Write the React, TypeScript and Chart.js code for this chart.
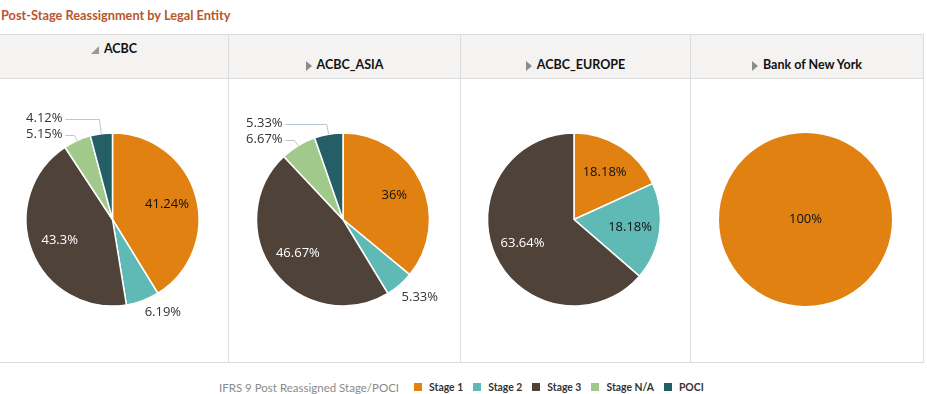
import React, { useEffect, useRef } from "react";
import { Chart, registerables } from "chart.js";

Chart.register(...registerables);

const TITLE = "Post-Stage Reassignment by Legal Entity";
const LEGEND_TITLE = "IFRS 9 Post Reassigned Stage/POCI";
const STAGES = ["Stage 1", "Stage 2", "Stage 3", "Stage N/A", "POCI"];
const STAGE_COLORS = ["#E08112", "#5FBAB5", "#4E4239", "#A2C98C", "#245F68"];
const INSIDE_TEXT = ["#111111", "#111111", "#FFFFFF", "#111111", "#FFFFFF"];
const ENTITIES = ["ACBC", "ACBC_ASIA", "ACBC_EUROPE", "Bank of New York"];
const EXPANDED = [true, false, false, false];

const ACBC = [41.24, 6.19, 43.3, 5.15, 4.12];
const ACBC_ASIA = [36, 5.33, 46.67, 6.67, 5.33];
const ACBC_EUROPE = [18.18, 18.18, 63.64, 0, 0];
const BANK_OF_NEW_YORK = [100, 0, 0, 0, 0];
const SERIES = [ACBC, ACBC_ASIA, ACBC_EUROPE, BANK_OF_NEW_YORK];

// layout (px)
const COL_BORDERS = [228, 460, 690, 923];
const TABLE_TOP = 34;
const HEADER_H = 43;
const BODY_H = 283;
const PIE_R = 86.5;
const FONT_UI = 'Lato, "Open Sans", sans-serif';
const FONT_LABEL = '13px "Open Sans", sans-serif';

const sliceLabels = {
  id: "sliceLabels",
  afterDatasetsDraw(chart: any) {
    const ctx = chart.ctx as CanvasRenderingContext2D;
    const meta = chart.getDatasetMeta(0);
    const data = chart.data.datasets[0].data as number[];
    const total = data.reduce((a, b) => a + b, 0);
    ctx.save();
    ctx.font = FONT_LABEL;
    ctx.textBaseline = "middle";
    const leftOut: any[] = [];
    meta.data.forEach((el: any, i: number) => {
      const v = data[i];
      if (!v) return;
      const p = el.getProps(["x", "y", "startAngle", "endAngle", "outerRadius"], true);
      const mid = (p.startAngle + p.endAngle) / 2;
      const dx = Math.cos(mid);
      const dy = Math.sin(mid);
      const text = String(v) + "%";
      const share = v / total;
      if (share >= 0.999) {
        ctx.fillStyle = INSIDE_TEXT[i];
        ctx.textAlign = "center";
        ctx.fillText(text, p.x, p.y);
      } else if (share >= 0.08) {
        ctx.fillStyle = INSIDE_TEXT[i];
        ctx.textAlign = "center";
        const d = p.outerRadius * 0.655;
        ctx.fillText(text, p.x + dx * d, p.y + dy * d);
      } else {
        const ex = p.x + dx * p.outerRadius;
        const ey = p.y + dy * p.outerRadius;
        if (dx >= 0) {
          ctx.fillStyle = "#333333";
          ctx.textAlign = "left";
          ctx.fillText(text, ex + 2, ey + 12);
        } else {
          leftOut.push({ text, ex, ey, dx, dy });
        }
      }
    });
    if (leftOut.length) {
      leftOut.sort((a, b) => b.ey - a.ey);
      let prevY = Infinity;
      leftOut.forEach((l) => {
        l.ly = Math.min(l.ey - 6, prevY - 16);
        prevY = l.ly;
        if (l.dy < 0) {
          const t = (l.ey - l.ly) / -l.dy;
          l.bx = l.ex + l.dx * t;
        } else {
          l.bx = l.ex;
        }
      });
      const textRight = Math.min(...leftOut.map((l) => l.bx)) - 12;
      ctx.strokeStyle = "#B8C5D2";
      ctx.lineWidth = 1;
      leftOut.forEach((l) => {
        ctx.beginPath();
        ctx.moveTo(l.ex, l.ey);
        ctx.lineTo(l.bx, Math.round(l.ly) + 0.5);
        ctx.lineTo(textRight + 3, Math.round(l.ly) + 0.5);
        ctx.stroke();
        ctx.fillStyle = "#333333";
        ctx.textAlign = "right";
        ctx.fillText(l.text, textRight, l.ly);
      });
    }
    ctx.restore();
  },
};

function PieCell({ values, width, height }: { values: number[]; width: number; height: number }) {
  const ref = useRef<HTMLCanvasElement | null>(null);
  useEffect(() => {
    if (!ref.current) return;
    const total = values.reduce((a, b) => a + b, 0);
    const chart = new Chart(ref.current, {
      type: "pie",
      data: {
        labels: STAGES,
        datasets: [
          {
            data: values,
            backgroundColor: STAGE_COLORS,
            borderColor: "#FFFFFF",
            borderWidth: (c: any) => {
              const v = values[c.dataIndex] || 0;
              return v === 0 || v / total >= 0.999 ? 0 : 1.5;
            },
            radius: PIE_R,
          } as any,
        ],
      },
      options: {
        responsive: false,
        animation: false,
        layout: { padding: { right: 3, bottom: 2 } },
        plugins: { legend: { display: false }, tooltip: { enabled: false } },
      },
      plugins: [sliceLabels],
    });
    return () => chart.destroy();
  }, [values, width, height]);
  return <canvas ref={ref} width={width} height={height} style={{ width, height, display: "block" }} />;
}

export default function App() {
  const lefts = [0, COL_BORDERS[0] + 1, COL_BORDERS[1] + 1, COL_BORDERS[2] + 1];
  const widths = lefts.map((l, i) => COL_BORDERS[i] - l);
  const border = "#DCDCDC";
  return (
    <div style={{ position: "absolute", left: 0, top: 0, width: 927, height: 394, background: "#FFFFFF", fontFamily: FONT_UI, overflow: "hidden" }}>
      <div style={{ position: "absolute", left: 1, top: 6, fontSize: 12.75, fontWeight: 700, color: "#B9562C", lineHeight: "18px", whiteSpace: "nowrap" }}>
        {TITLE}
      </div>
      {/* table lines */}
      <div style={{ position: "absolute", left: 0, top: TABLE_TOP, width: COL_BORDERS[3] + 1, height: 1, background: border }} />
      <div style={{ position: "absolute", left: 0, top: TABLE_TOP + 1, width: COL_BORDERS[3], height: HEADER_H, background: "#F4F3F1" }} />
      <div style={{ position: "absolute", left: 0, top: TABLE_TOP + 1 + HEADER_H, width: COL_BORDERS[3] + 1, height: 1, background: border }} />
      <div style={{ position: "absolute", left: 0, top: TABLE_TOP + 2 + HEADER_H + BODY_H, width: COL_BORDERS[3] + 1, height: 1, background: border }} />
      {COL_BORDERS.map((x) => (
        <div key={x} style={{ position: "absolute", left: x, top: TABLE_TOP, width: 1, height: HEADER_H + BODY_H + 3, background: border }} />
      ))}
      {ENTITIES.map((name, i) => (
        <div key={name} style={{ position: "absolute", left: lefts[i], width: widths[i], top: EXPANDED[i] ? TABLE_TOP + 7 : TABLE_TOP + 23, height: 16, display: "flex", justifyContent: "center", alignItems: "flex-end" }}>
          {EXPANDED[i] ? (
            <span style={{ width: 0, height: 0, borderBottom: "8px solid #9A9A9A", borderLeft: "8px solid transparent", marginRight: 5, marginBottom: 3 }} />
          ) : (
            <span style={{ width: 0, height: 0, borderTop: "5px solid transparent", borderBottom: "5px solid transparent", borderLeft: "6px solid #8C8C8C", marginRight: 5, marginBottom: 2 }} />
          )}
          <span style={{ fontSize: 12.5, fontWeight: 700, color: "#111111", lineHeight: "16px", whiteSpace: "nowrap" }}>{name}</span>
        </div>
      ))}
      {SERIES.map((vals, i) => (
        <div key={ENTITIES[i]} style={{ position: "absolute", left: lefts[i], top: TABLE_TOP + 2 + HEADER_H, width: widths[i], height: BODY_H }}>
          <PieCell values={vals} width={widths[i]} height={BODY_H} />
        </div>
      ))}
      {/* legend */}
      <div style={{ position: "absolute", left: 219, top: 379, height: 16, display: "flex", alignItems: "center", whiteSpace: "nowrap" }}>
        <span style={{ fontSize: 11.5, color: "#8A8A8A", marginRight: 15 }}>{LEGEND_TITLE}</span>
        {STAGES.map((s, i) => (
          <span key={s} style={{ display: "flex", alignItems: "center", marginRight: 10 }}>
            <span style={{ width: 8, height: 8, background: STAGE_COLORS[i], marginRight: 7 }} />
            <span style={{ fontSize: 10.4, fontWeight: 700, color: "#333333" }}>{s}</span>
          </span>
        ))}
      </div>
    </div>
  );
}
